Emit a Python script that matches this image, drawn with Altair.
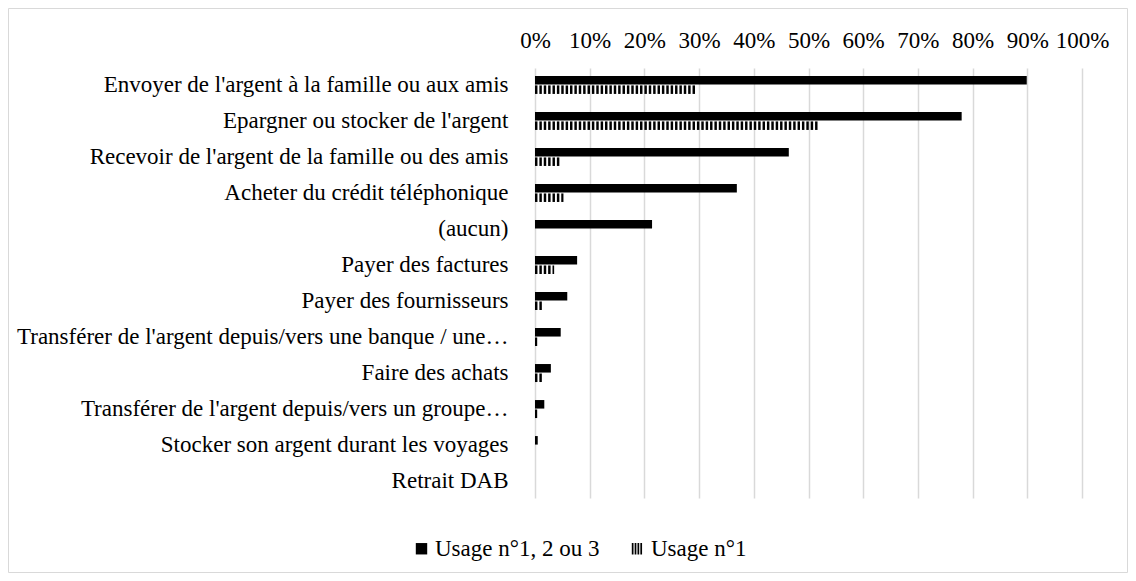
import altair as alt
import pandas as pd

categories = [
    "Envoyer de l'argent à la famille ou aux amis",
    "Epargner ou stocker de l'argent",
    "Recevoir de l'argent de la famille ou des amis",
    "Acheter du crédit téléphonique",
    "(aucun)",
    "Payer des factures",
    "Payer des fournisseurs",
    "Transférer de l'argent depuis/vers une banque / une…",
    "Faire des achats",
    "Transférer de l'argent depuis/vers un groupe…",
    "Stocker son argent durant les voyages",
    "Retrait DAB",
]
usage_123 = [0.899, 0.780, 0.464, 0.369, 0.214, 0.077, 0.059, 0.047, 0.029, 0.017, 0.005, 0.0]
usage_1 = [0.293, 0.518, 0.046, 0.052, 0.0, 0.035, 0.014, 0.004, 0.014, 0.004, 0.0, 0.0]
series = ["Usage n°1, 2 ou 3", "Usage n°1"]
tick_values = [0, 0.1, 0.2, 0.3, 0.4, 0.5, 0.6, 0.7, 0.8, 0.9, 1.0]

rows = []
for c, a, b in zip(categories, usage_123, usage_1):
    rows.append({"cat": c, "series": series[0], "v": a})
    rows.append({"cat": c, "series": series[1], "v": b})
df = pd.DataFrame(rows)

FONT = "Liberation Serif, Times New Roman, serif"
FS = 23
STRIPE_PATH = "M-1,-1H-0.7V1H-1Z M-0.5,-1H-0.2V1H-0.5Z M0,-1H0.3V1H0Z M0.5,-1H0.8V1H0.5Z"

y_enc = alt.Y(
    "cat:N",
    sort=categories,
    scale=alt.Scale(paddingInner=0.5, paddingOuter=0.22),
    axis=alt.Axis(
        title=None, ticks=False, domain=False, labelFont=FONT, labelFontSize=FS,
        labelColor="black", labelPadding=27, labelLimit=0,
    ),
)
x_axis = alt.Axis(
    orient="top", format=".0%", values=tick_values, title=None, ticks=False,
    domain=False, labelFont=FONT, labelFontSize=FS, labelColor="black",
    labelPadding=16, labelOverlap=False, labelFlush=False,
    grid=True, gridColor="#d9d9d9", gridWidth=1.5,
)
yoff = alt.YOffset("series:N", scale=alt.Scale(domain=series, paddingInner=0.1))

base = alt.Chart(df)

solid = base.transform_filter(alt.datum.series == series[0]).mark_bar().encode(
    x=alt.X("v:Q", scale=alt.Scale(domain=[0, 1]), axis=x_axis),
    y=y_enc,
    yOffset=yoff,
    color=alt.Color(
        "series:N",
        scale=alt.Scale(domain=series, range=["black", "black"]),
        legend=alt.Legend(
            title=None, orient="none", legendX=-125, legendY=469,
            direction="horizontal", columns=2, labelFont=FONT, labelFontSize=FS,
            labelColor="black", labelLimit=0, symbolSize=130, symbolStrokeWidth=0,
            labelOffset=2, columnPadding=26,
            symbolType={"expr": "datum.value === 'Usage n°1' ? '" + STRIPE_PATH + "' : 'square'"},
        ),
    ),
)

stripes = (
    base.transform_filter(alt.datum.series == series[1])
    .transform_calculate(s="sequence(0, datum.v, 0.008)")
    .transform_flatten(["s"])
    .transform_calculate(e="min(datum.s + 0.0045, datum.v)")
    .mark_bar(color="black")
    .encode(
        x=alt.X("s:Q", scale=alt.Scale(domain=[0, 1])),
        x2="e:Q",
        y=y_enc,
        yOffset=yoff,
    )
)

border = alt.Chart(alt.Data(values=[{}])).mark_rect(
    fill=None, stroke="#d9d9d9", strokeWidth=1
).encode(
    x=alt.value(-526.5), x2=alt.value(592.5), y=alt.value(-59.5), y2=alt.value(504.5)
)

chart = alt.layer(border, solid, stripes).properties(
    width=547, height=430,
    padding={"left": 527, "top": 60, "right": 46, "bottom": 75},
    autosize=alt.AutoSizeParams(type="none"),
).configure_view(stroke=None)

chart.save("out.html", embed_options={"renderer": "svg", "actions": False})
